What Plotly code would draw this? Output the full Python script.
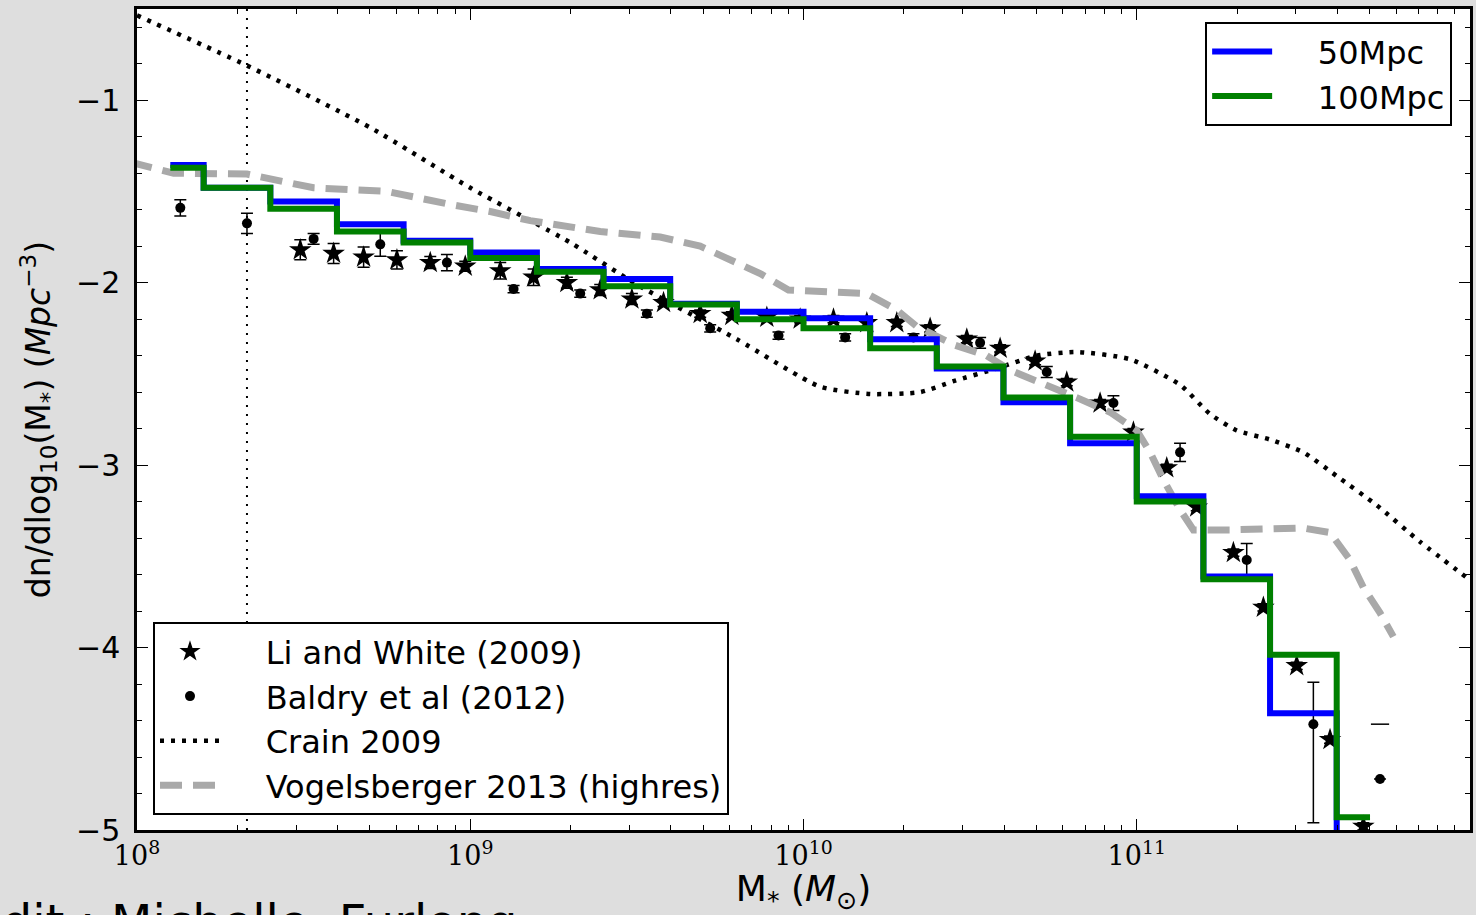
import numpy as np
import plotly.graph_objects as go

# ---------------- data (log10 stellar mass, log10 dn/dlogM) ----------------
bin_centres_log = [8.1, 8.3, 8.5, 8.7, 8.9, 9.1, 9.3, 9.5, 9.7, 9.9,
                   10.1, 10.3, 10.5, 10.7, 10.9, 11.1, 11.3, 11.5, 11.7]
smf_50mpc = [-1.355, -1.48, -1.555, -1.68, -1.77, -1.835, -1.925, -1.98, -2.115, -2.16,
             -2.195, -2.31, -2.47, -2.655, -2.88, -3.17, -3.61, -4.36, -5.5]
smf_100mpc = [-1.37, -1.48, -1.595, -1.72, -1.78, -1.865, -1.94, -2.02, -2.12, -2.20,
              -2.25, -2.36, -2.46, -2.63, -2.845, -3.20, -3.625, -4.04, -4.93]

li_white_logm = [8.49, 8.59, 8.68, 8.78, 8.88, 8.985, 9.09, 9.19, 9.29, 9.39,
                 9.485, 9.58, 9.69, 9.785, 9.89, 9.99, 10.09, 10.19, 10.28, 10.38,
                 10.49, 10.59, 10.695, 10.79, 10.89, 10.99, 11.09, 11.18, 11.29, 11.38,
                 11.48, 11.58, 11.68]
li_white_phi = [-1.82, -1.84, -1.86, -1.875, -1.89, -1.91, -1.935, -1.97, -2.00, -2.04,
                -2.09, -2.11, -2.17, -2.18, -2.19, -2.20, -2.20, -2.22, -2.22, -2.25,
                -2.31, -2.36, -2.43, -2.545, -2.66, -2.82, -3.015, -3.23, -3.48, -3.78,
                -4.10, -4.505, -4.98]
li_white_err = [0.055, 0.055, 0.055, 0.05, 0.033, 0.027, 0.045, 0.045, 0.03, 0.03,
                0.03, 0.02, 0.02, 0.02, 0.02, 0.02, 0.02, 0.02, 0.02, 0.02,
                0.02, 0.02, 0.02, 0.02, 0.02, 0.02, 0.02, 0.02, 0.02, 0.02,
                0.02, 0.02, 0.02]

baldry_logm = [8.13, 8.33, 8.53, 8.73, 8.93, 9.13, 9.33, 9.53, 9.72, 9.925,
               10.125, 10.33, 10.53, 10.73, 10.93, 11.13, 11.33, 11.53, 11.73]
baldry_phi = [-1.59, -1.675, -1.76, -1.79, -1.89, -2.035, -2.06, -2.17, -2.25, -2.29,
              -2.30, -2.30, -2.33, -2.49, -2.66, -2.93, -3.52, -4.42, -4.72]
baldry_err_up = [0.045, 0.055, 0.03, 0.065, 0.045, 0.02, 0.02, 0.02, 0.02, 0.02,
                 0.02, 0.02, 0.03, 0.03, 0.04, 0.05, 0.09, 0.23, 0.30]
baldry_err_down = [0.045, 0.055, 0.03, 0.065, 0.045, 0.02, 0.02, 0.02, 0.02, 0.02,
                   0.02, 0.02, 0.03, 0.03, 0.04, 0.05, 0.09, 0.54, np.nan]

crain_logm = [8.0, 8.33, 8.7, 9.0, 9.3, 9.5, 9.8, 10.05, 10.2, 10.35, 10.45, 10.58,
              10.70, 10.82, 10.98, 11.13, 11.22, 11.30, 11.40, 11.50, 11.60, 11.72,
              11.85, 12.0]
crain_phi = [-0.535, -0.81, -1.15, -1.48, -1.78, -2.01, -2.31, -2.57, -2.61, -2.60,
             -2.54, -2.47, -2.40, -2.38, -2.42, -2.56, -2.72, -2.81, -2.86, -2.93,
             -3.06, -3.22, -3.42, -3.63]

vogel_logm = [7.98, 8.11, 8.33, 8.43, 8.53, 8.75, 8.85, 8.95, 9.06, 9.18, 9.39, 9.57,
              9.69, 9.87, 9.955, 10.07, 10.19, 10.28, 10.34, 10.45, 10.55, 10.62,
              10.72, 10.82, 10.92, 11.0, 11.04, 11.08, 11.13, 11.17, 11.28, 11.5,
              11.58, 11.64, 11.68, 11.73, 11.77]
vogel_phi = [-1.34, -1.40, -1.405, -1.44, -1.48, -1.50, -1.54, -1.575, -1.61, -1.66,
             -1.72, -1.75, -1.80, -1.95, -2.04, -2.05, -2.06, -2.15, -2.24, -2.34,
             -2.40, -2.48, -2.55, -2.63, -2.71, -2.81, -2.93, -3.08, -3.245, -3.355,
             -3.355, -3.345, -3.37, -3.52, -3.67, -3.81, -3.94]

resolution_limit_logm = 8.33
x_tick_logs = [8, 9, 10, 11]
x_tick_text = ["10<sup>8</sup>", "10<sup>9</sup>", "10<sup>10</sup>", "10<sup>11</sup>"]
y_range = [-5, -0.5]

# ---------------- figure ----------------
def lin(v):
    return [10 ** t for t in v]

PAD = "\u00a0" * 4  # gap between legend sample and label

fig = go.Figure()

fig.add_trace(go.Scatter(
    x=lin([resolution_limit_logm] * 2), y=y_range, mode="lines",
    line=dict(color="black", width=2, dash="2px,7px"), showlegend=False, hoverinfo="skip"))

fig.add_trace(go.Scatter(
    x=lin(li_white_logm), y=li_white_phi, mode="markers", name=PAD + "Li and White (2009)",
    marker=dict(symbol="star", size=17, color="black"),
    error_y=dict(type="data", array=li_white_err, color="black", thickness=1.5, width=6),
    legend="legend2", legendrank=1))

down = [d if not np.isnan(d) else 0 for d in baldry_err_down]
fig.add_trace(go.Scatter(
    x=lin(baldry_logm), y=baldry_phi, mode="markers", name=PAD + "Baldry et al (2012)",
    marker=dict(symbol="circle", size=10, color="black"),
    error_y=dict(type="data", symmetric=False,
                 array=[u if not np.isnan(d) else 0 for u, d in zip(baldry_err_up, baldry_err_down)],
                 arrayminus=down, color="black", thickness=1.5, width=6),
    legend="legend2", legendrank=2))

# upper caps for points with undefined lower error
cap_x = [m for m, d in zip(baldry_logm, baldry_err_down) if np.isnan(d)]
cap_y = [p + u for p, u, d in zip(baldry_phi, baldry_err_up, baldry_err_down) if np.isnan(d)]
fig.add_trace(go.Scatter(
    x=lin(cap_x), y=cap_y, mode="markers", showlegend=False, hoverinfo="skip",
    marker=dict(symbol="line-ew", size=13, line=dict(color="black", width=1.5))))

fig.add_trace(go.Scatter(
    x=lin(crain_logm), y=crain_phi, mode="lines", name=PAD + "Crain 2009",
    line=dict(color="black", width=4.5, dash="4px,7px", shape="spline", smoothing=0.6),
    legend="legend2", legendrank=3))

fig.add_trace(go.Scatter(
    x=lin(vogel_logm), y=vogel_phi, mode="lines", name=PAD + "Vogelsberger 2013 (highres)",
    line=dict(color="#a9a9a9", width=7, dash="22px,11px"),
    legend="legend2", legendrank=4))

fig.add_trace(go.Scatter(
    x=lin(bin_centres_log), y=smf_50mpc, mode="lines", name=PAD + "50Mpc",
    line=dict(color="#0000ff", width=6, shape="hvh"), legend="legend", legendrank=1))

fig.add_trace(go.Scatter(
    x=lin(bin_centres_log), y=smf_100mpc, mode="lines", name=PAD + "100Mpc",
    line=dict(color="#008000", width=6, shape="hvh"), legend="legend", legendrank=2))

minor_x = [k * 10 ** n for n in range(8, 12) for k in range(2, 10)]

fig.update_layout(
    width=1476, height=915,
    margin=dict(l=137, r=3, t=9, b=85),
    paper_bgcolor="#dedede", plot_bgcolor="white",
    font=dict(family="DejaVu Sans", color="black", size=30),
    xaxis=dict(
        type="log", range=[8, 12],
        tickvals=lin(x_tick_logs), ticktext=x_tick_text,
        tickfont=dict(family="DejaVu Serif", size=27),
        ticks="inside", ticklen=11, tickwidth=1.2, tickcolor="black",
        minor=dict(tickvals=minor_x, ticks="inside", ticklen=5, tickwidth=1, tickcolor="black"),
        showline=True, linecolor="black", linewidth=2.5, mirror="allticks",
        showgrid=False, zeroline=False,
        title=dict(text="M<sub>*</sub> (<i>M</i><sub>⊙</sub>)", font=dict(size=36), standoff=2),
    ),
    yaxis=dict(
        range=y_range, dtick=1, tick0=-5,
        ticks="inside", ticklen=11, tickwidth=1.2, tickcolor="black",
        minor=dict(dtick=0.2, ticks="inside", ticklen=5, tickwidth=1, tickcolor="black"),
        tickfont=dict(size=30),
        showline=True, linecolor="black", linewidth=2.5, mirror="allticks",
        showgrid=False, zeroline=False, ticklabelstandoff=8,
        title=dict(text="dn/dlog<sub>10</sub>(M<sub>*</sub>) (<i>Mpc</i><sup>−3</sup>)",
                   font=dict(size=33), standoff=16),
    ),
    legend=dict(
        x=0.9866, y=0.984, xanchor="right", yanchor="top",
        bgcolor="white", bordercolor="black", borderwidth=2,
        font=dict(size=32), tracegroupgap=0, itemwidth=60,
    ),
    legend2=dict(
        x=0.012, y=0.018, xanchor="left", yanchor="bottom",
        bgcolor="white", bordercolor="black", borderwidth=2,
        font=dict(size=32), tracegroupgap=0, itemwidth=60,
    ),
    annotations=[dict(
        text="Credit : Michelle  Furlong", xref="paper", yref="paper",
        x=-0.1644, y=-0.076, xanchor="left", yanchor="top", showarrow=False,
        font=dict(size=48, family="DejaVu Sans", color="black"))],
)

fig.write_html("out.html")
